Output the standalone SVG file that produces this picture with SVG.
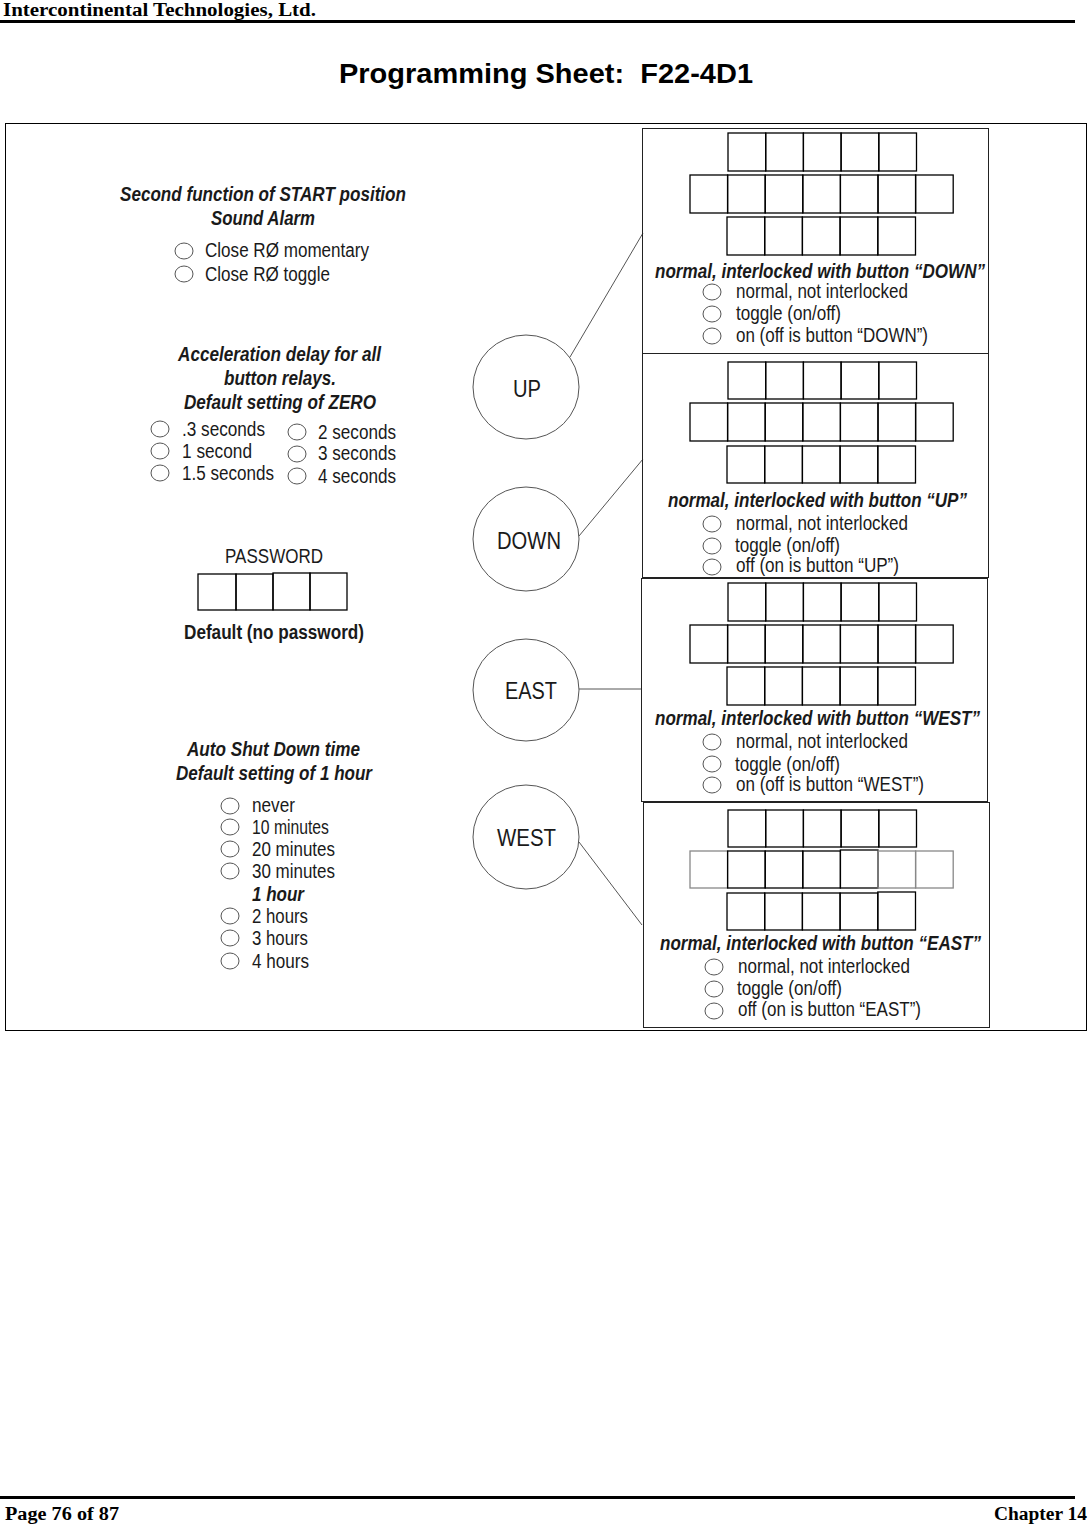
<svg xmlns="http://www.w3.org/2000/svg" width="1089" height="1525" viewBox="0 0 1089 1525">
<style>
.hdr{font-family:"Liberation Serif",serif;font-weight:bold;font-size:18px;fill:#000}
.ttl{font-family:"Liberation Sans",Arial,sans-serif;font-weight:bold;font-size:28px;fill:#000;white-space:pre}
.bi{font-family:"Liberation Sans",Arial,sans-serif;font-weight:bold;font-style:italic;font-size:20px;fill:#1a1a1a}
.b{font-family:"Liberation Sans",Arial,sans-serif;font-weight:bold;font-size:20px;fill:#1a1a1a}
.t{font-family:"Liberation Sans",Arial,sans-serif;font-size:20px;fill:#1a1a1a}
.btn{font-family:"Liberation Sans",Arial,sans-serif;font-size:24px;fill:#1a1a1a}
.radio{fill:none;stroke:#555;stroke-width:1}
.bc{fill:none;stroke:#555;stroke-width:1}
.box{fill:none;stroke:#000;stroke-width:1.3}
.gbox{fill:none;stroke:#888;stroke-width:1.3}
.panel{fill:none;stroke:#222;stroke-width:1}
.conn{stroke:#555;stroke-width:1;fill:none}
</style>

<g id="header">
<text class="hdr" x="3" y="16" textLength="313" lengthAdjust="spacingAndGlyphs">Intercontinental Technologies, Ltd.</text>
<line x1="0" y1="21.5" x2="1075" y2="21.5" stroke="#000" stroke-width="3"/>
</g>

<g id="title">
<text class="ttl" x="339" y="83" textLength="414" lengthAdjust="spacingAndGlyphs" xml:space="preserve">Programming Sheet:  F22-4D1</text>
</g>

<g id="frame">
<rect x="5.5" y="123.5" width="1081" height="907" fill="none" stroke="#000" stroke-width="1"/>
</g>

<g id="section-start">
<text class="bi" x="120" y="201" textLength="286" lengthAdjust="spacingAndGlyphs">Second function of START position</text>
<text class="bi" x="211" y="225" textLength="104" lengthAdjust="spacingAndGlyphs">Sound Alarm</text>
<ellipse class="radio" cx="184" cy="251" rx="9" ry="8"/>
<text class="t" x="205" y="257" textLength="164" lengthAdjust="spacingAndGlyphs">Close RØ momentary</text>
<ellipse class="radio" cx="184" cy="274" rx="9" ry="8"/>
<text class="t" x="205" y="281" textLength="125" lengthAdjust="spacingAndGlyphs">Close RØ toggle</text>
</g>

<g id="section-accel">
<text class="bi" x="178" y="361" textLength="203" lengthAdjust="spacingAndGlyphs">Acceleration delay for all</text>
<text class="bi" x="224" y="385" textLength="112" lengthAdjust="spacingAndGlyphs">button relays.</text>
<text class="bi" x="184" y="409" textLength="192" lengthAdjust="spacingAndGlyphs">Default setting of ZERO</text>
<ellipse class="radio" cx="160" cy="429" rx="9" ry="8"/>
<text class="t" x="182" y="436" textLength="83" lengthAdjust="spacingAndGlyphs">.3 seconds</text>
<ellipse class="radio" cx="160" cy="451" rx="9" ry="8"/>
<text class="t" x="182" y="458" textLength="70" lengthAdjust="spacingAndGlyphs">1 second</text>
<ellipse class="radio" cx="160" cy="473" rx="9" ry="8"/>
<text class="t" x="182" y="480" textLength="92" lengthAdjust="spacingAndGlyphs">1.5 seconds</text>
<ellipse class="radio" cx="297" cy="432" rx="9" ry="8"/>
<text class="t" x="318" y="439" textLength="78" lengthAdjust="spacingAndGlyphs">2 seconds</text>
<ellipse class="radio" cx="297" cy="454" rx="9" ry="8"/>
<text class="t" x="318" y="460" textLength="78" lengthAdjust="spacingAndGlyphs">3 seconds</text>
<ellipse class="radio" cx="297" cy="476" rx="9" ry="8"/>
<text class="t" x="318" y="483" textLength="78" lengthAdjust="spacingAndGlyphs">4 seconds</text>
</g>

<g id="section-password">
<text class="t" x="225" y="563" textLength="98" lengthAdjust="spacingAndGlyphs">PASSWORD</text>
<rect class="box" x="198" y="574" width="38" height="36"/>
<rect class="box" x="236" y="574" width="37" height="36"/>
<rect class="box" x="273" y="573" width="37" height="37"/>
<rect class="box" x="310" y="573" width="37" height="37"/>
<text class="b" x="184" y="639" textLength="180" lengthAdjust="spacingAndGlyphs">Default (no password)</text>
</g>

<g id="section-autoshutdown">
<text class="bi" x="187" y="756" textLength="173" lengthAdjust="spacingAndGlyphs">Auto Shut Down time</text>
<text class="bi" x="176" y="780" textLength="196" lengthAdjust="spacingAndGlyphs">Default setting of 1 hour</text>
<ellipse class="radio" cx="230" cy="806" rx="9" ry="8"/>
<text class="t" x="252" y="812" textLength="43" lengthAdjust="spacingAndGlyphs">never</text>
<ellipse class="radio" cx="230" cy="827" rx="9" ry="8"/>
<text class="t" x="252" y="834" textLength="77" lengthAdjust="spacingAndGlyphs">10 minutes</text>
<ellipse class="radio" cx="230" cy="849" rx="9" ry="8"/>
<text class="t" x="252" y="856" textLength="83" lengthAdjust="spacingAndGlyphs">20 minutes</text>
<ellipse class="radio" cx="230" cy="871" rx="9" ry="8"/>
<text class="t" x="252" y="878" textLength="83" lengthAdjust="spacingAndGlyphs">30 minutes</text>
<text class="bi" x="252" y="901" textLength="52" lengthAdjust="spacingAndGlyphs">1 hour</text>
<ellipse class="radio" cx="230" cy="916" rx="9" ry="8"/>
<text class="t" x="252" y="923" textLength="56" lengthAdjust="spacingAndGlyphs">2 hours</text>
<ellipse class="radio" cx="230" cy="938" rx="9" ry="8"/>
<text class="t" x="252" y="945" textLength="56" lengthAdjust="spacingAndGlyphs">3 hours</text>
<ellipse class="radio" cx="230" cy="961" rx="9" ry="8"/>
<text class="t" x="252" y="968" textLength="57" lengthAdjust="spacingAndGlyphs">4 hours</text>
</g>

<g id="connectors">
<line class="conn" x1="570" y1="357" x2="643" y2="233"/>
<line class="conn" x1="579" y1="536" x2="643" y2="459"/>
<line class="conn" x1="579" y1="689" x2="642" y2="689"/>
<line class="conn" x1="579" y1="842" x2="642" y2="925"/>
</g>

<g id="btn-up">
<ellipse class="bc" cx="526" cy="387" rx="53" ry="52"/>
<text class="btn" x="513" y="397" textLength="28" lengthAdjust="spacingAndGlyphs">UP</text>
</g>
<g id="btn-down">
<ellipse class="bc" cx="526" cy="539" rx="53" ry="52"/>
<text class="btn" x="497" y="549" textLength="64" lengthAdjust="spacingAndGlyphs">DOWN</text>
</g>
<g id="btn-east">
<ellipse class="bc" cx="526" cy="690" rx="53" ry="51"/>
<text class="btn" x="505" y="699" textLength="52" lengthAdjust="spacingAndGlyphs">EAST</text>
</g>
<g id="btn-west">
<ellipse class="bc" cx="526" cy="837" rx="53" ry="52"/>
<text class="btn" x="497" y="846" textLength="59" lengthAdjust="spacingAndGlyphs">WEST</text>
</g>

<g id="panel-up">
<rect class="panel" x="642.5" y="128.5" width="346" height="225"/>
<rect class="box" x="728" y="133" width="37.7" height="38"/><rect class="box" x="765.7" y="133" width="37.7" height="38"/><rect class="box" x="803.4" y="133" width="37.7" height="38"/><rect class="box" x="841.1" y="133" width="37.7" height="38"/><rect class="box" x="878.8" y="133" width="37.7" height="38"/>
<rect class="box" x="690" y="175" width="37.6" height="38"/><rect class="box" x="727.6" y="175" width="37.6" height="38"/><rect class="box" x="765.2" y="175" width="37.6" height="38"/><rect class="box" x="802.8" y="175" width="37.6" height="38"/><rect class="box" x="840.4" y="175" width="37.6" height="38"/><rect class="box" x="878" y="175" width="37.6" height="38"/><rect class="box" x="915.6" y="175" width="37.6" height="38"/>
<rect class="box" x="727" y="217" width="37.7" height="38"/><rect class="box" x="764.7" y="217" width="37.7" height="38"/><rect class="box" x="802.4" y="217" width="37.7" height="38"/><rect class="box" x="840.1" y="217" width="37.7" height="38"/><rect class="box" x="877.8" y="217" width="37.7" height="38"/>
<text class="bi" x="655" y="278" textLength="330" lengthAdjust="spacingAndGlyphs">normal, interlocked with button “DOWN”</text>
<ellipse class="radio" cx="712" cy="292" rx="9" ry="8"/>
<text class="t" x="736" y="298" textLength="172" lengthAdjust="spacingAndGlyphs">normal, not interlocked</text>
<ellipse class="radio" cx="712" cy="314" rx="9" ry="8"/>
<text class="t" x="736" y="320" textLength="105" lengthAdjust="spacingAndGlyphs">toggle (on/off)</text>
<ellipse class="radio" cx="712" cy="336" rx="9" ry="8"/>
<text class="t" x="736" y="342" textLength="192" lengthAdjust="spacingAndGlyphs">on (off is button “DOWN”)</text>
</g>

<g id="panel-down">
<rect class="panel" x="642.5" y="353.5" width="346" height="224" stroke="#666"/>
<rect class="box" x="728" y="362" width="37.7" height="37"/><rect class="box" x="765.7" y="362" width="37.7" height="37"/><rect class="box" x="803.4" y="362" width="37.7" height="37"/><rect class="box" x="841.1" y="362" width="37.7" height="37"/><rect class="box" x="878.8" y="362" width="37.7" height="37"/>
<rect class="box" x="690" y="403" width="37.6" height="38"/><rect class="box" x="727.6" y="403" width="37.6" height="38"/><rect class="box" x="765.2" y="403" width="37.6" height="38"/><rect class="box" x="802.8" y="403" width="37.6" height="38"/><rect class="box" x="840.4" y="403" width="37.6" height="38"/><rect class="box" x="878" y="403" width="37.6" height="38"/><rect class="box" x="915.6" y="403" width="37.6" height="38"/>
<rect class="box" x="727" y="446" width="37.7" height="37"/><rect class="box" x="764.7" y="446" width="37.7" height="37"/><rect class="box" x="802.4" y="446" width="37.7" height="37"/><rect class="box" x="840.1" y="446" width="37.7" height="37"/><rect class="box" x="877.8" y="446" width="37.7" height="37"/>
<text class="bi" x="668" y="507" textLength="299" lengthAdjust="spacingAndGlyphs">normal, interlocked with button “UP”</text>
<ellipse class="radio" cx="712" cy="524" rx="9" ry="8"/>
<text class="t" x="736" y="530" textLength="172" lengthAdjust="spacingAndGlyphs">normal, not interlocked</text>
<ellipse class="radio" cx="712" cy="546" rx="9" ry="8"/>
<text class="t" x="735" y="552" textLength="105" lengthAdjust="spacingAndGlyphs">toggle (on/off)</text>
<ellipse class="radio" cx="712" cy="567" rx="9" ry="8"/>
<text class="t" x="736" y="572" textLength="163" lengthAdjust="spacingAndGlyphs">off (on is button “UP”)</text>
</g>

<g id="panel-east">
<rect class="panel" x="641.5" y="578.5" width="346" height="223" stroke="#666"/>
<rect class="box" x="728" y="583" width="37.7" height="38"/><rect class="box" x="765.7" y="583" width="37.7" height="38"/><rect class="box" x="803.4" y="583" width="37.7" height="38"/><rect class="box" x="841.1" y="583" width="37.7" height="38"/><rect class="box" x="878.8" y="583" width="37.7" height="38"/>
<rect class="box" x="690" y="625" width="37.6" height="38"/><rect class="box" x="727.6" y="625" width="37.6" height="38"/><rect class="box" x="765.2" y="625" width="37.6" height="38"/><rect class="box" x="802.8" y="625" width="37.6" height="38"/><rect class="box" x="840.4" y="625" width="37.6" height="38"/><rect class="box" x="878" y="625" width="37.6" height="38"/><rect class="box" x="915.6" y="625" width="37.6" height="38"/>
<rect class="box" x="727" y="667" width="37.7" height="38"/><rect class="box" x="764.7" y="667" width="37.7" height="38"/><rect class="box" x="802.4" y="667" width="37.7" height="38"/><rect class="box" x="840.1" y="667" width="37.7" height="38"/><rect class="box" x="877.8" y="667" width="37.7" height="38"/>
<text class="bi" x="655" y="725" textLength="325" lengthAdjust="spacingAndGlyphs">normal, interlocked with button “WEST”</text>
<ellipse class="radio" cx="712" cy="742" rx="9" ry="8"/>
<text class="t" x="736" y="748" textLength="172" lengthAdjust="spacingAndGlyphs">normal, not interlocked</text>
<ellipse class="radio" cx="712" cy="764" rx="9" ry="8"/>
<text class="t" x="735" y="771" textLength="105" lengthAdjust="spacingAndGlyphs">toggle (on/off)</text>
<ellipse class="radio" cx="712" cy="785" rx="9" ry="8"/>
<text class="t" x="736" y="791" textLength="188" lengthAdjust="spacingAndGlyphs">on (off is button “WEST”)</text>
</g>

<g id="panel-west">
<rect class="panel" x="643.5" y="802.5" width="346" height="225" stroke="#666"/>
<rect class="box" x="728" y="810" width="37.7" height="37"/><rect class="box" x="765.7" y="810" width="37.7" height="37"/><rect class="box" x="803.4" y="810" width="37.7" height="37"/><rect class="box" x="841.1" y="810" width="37.7" height="37"/><rect class="box" x="878.8" y="810" width="37.7" height="37"/>
<rect class="gbox" x="690" y="851" width="37.6" height="37"/><rect class="box" x="727.6" y="851" width="37.6" height="37"/><rect class="box" x="765.2" y="851" width="37.6" height="37"/><rect class="box" x="802.8" y="851" width="37.6" height="37"/><rect class="box" x="840.4" y="850" width="37.6" height="38"/><rect class="gbox" x="878" y="851" width="37.6" height="37"/><rect class="gbox" x="915.6" y="851" width="37.6" height="37"/>
<rect class="box" x="727" y="893" width="37.7" height="37"/><rect class="box" x="764.7" y="893" width="37.7" height="37"/><rect class="box" x="802.4" y="893" width="37.7" height="37"/><rect class="box" x="840.1" y="893" width="37.7" height="37"/><rect class="box" x="877.8" y="892" width="37.7" height="38"/>
<text class="bi" x="660" y="950" textLength="321" lengthAdjust="spacingAndGlyphs">normal, interlocked with button “EAST”</text>
<ellipse class="radio" cx="714" cy="967" rx="9" ry="8"/>
<text class="t" x="738" y="973" textLength="172" lengthAdjust="spacingAndGlyphs">normal, not interlocked</text>
<ellipse class="radio" cx="714" cy="989" rx="9" ry="8"/>
<text class="t" x="737" y="995" textLength="105" lengthAdjust="spacingAndGlyphs">toggle (on/off)</text>
<ellipse class="radio" cx="714" cy="1011" rx="9" ry="8"/>
<text class="t" x="738" y="1016" textLength="183" lengthAdjust="spacingAndGlyphs">off (on is button “EAST”)</text>
</g>

<g id="footer">
<line x1="0" y1="1497.5" x2="1075" y2="1497.5" stroke="#000" stroke-width="3"/>
<text class="hdr" x="5" y="1520" textLength="114" lengthAdjust="spacingAndGlyphs">Page 76 of 87</text>
<text class="hdr" x="994" y="1520" textLength="93" lengthAdjust="spacingAndGlyphs">Chapter 14</text>
</g>
</svg>
